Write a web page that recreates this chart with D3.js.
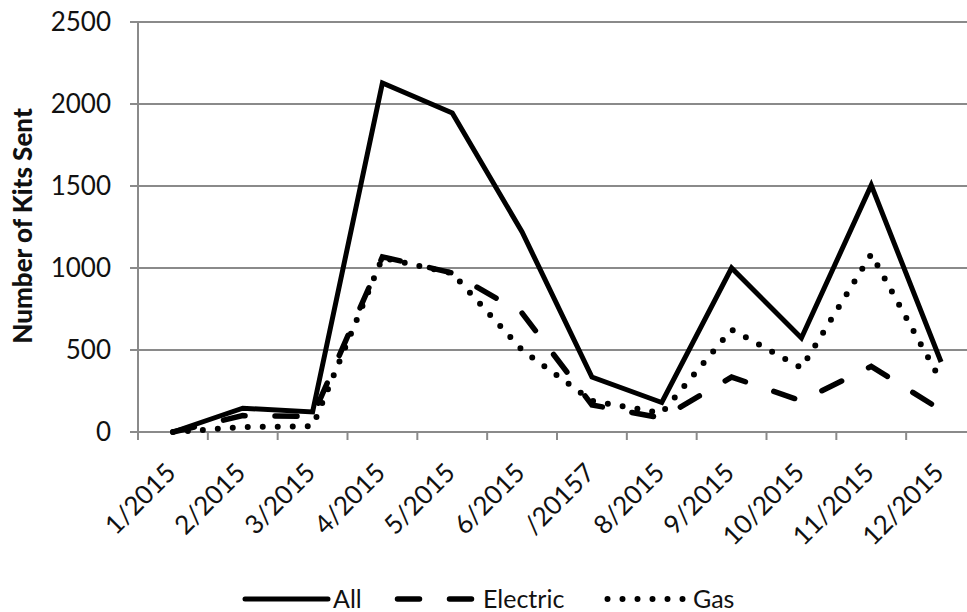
<!DOCTYPE html>
<html>
<head>
<meta charset="utf-8">
<script src="https://cdn.jsdelivr.net/npm/d3@7"></script>
<style>
  body { margin: 0; background: #fff; }
  svg { display: block; font-family: Lato, "Open Sans", sans-serif; }
</style>
</head>
<body>
<div id="chart"></div>
<script>
// Data
const months = ["1/2015", "2/2015", "3/2015", "4/2015", "5/2015", "6/2015",
    "/20157", "8/2015", "9/2015", "10/2015", "11/2015", "12/2015"];
const allKits = [0, 145, 122, 2128, 1945, 1220, 335, 180, 1000, 573, 1505, 427];
const electricKits = [0, 100, 95, 1068, 970, 725, 165, 85, 335, 190, 400, 134];
const gasKits = [0, 30, 35, 1062, 968, 500, 190, 115, 625, 390, 1085, 310];
const yTicks = [0, 500, 1000, 1500, 2000, 2500];
const seriesNames = ["All", "Electric", "Gas"];

const seriesValues = { "All": allKits, "Electric": electricKits, "Gas": gasKits };

// line styles
const dashFor = { "All": null, "Electric": "22,30", "Gas": "0,15" };
const widthFor = { "All": 5, "Electric": 5.5, "Gas": 6 };

const W = 967, H = 612;
const svg = d3.select("#chart").append("svg")
    .attr("width", W)
    .attr("height", H);

// Scales
const x = d3.scaleBand()
    .domain(months)
    .range([138, 976])
    .padding(0);
const y = d3.scaleLinear()
    .domain([0, 2500])
    .range([432, 22]);

const gridColor = "#8a8a8a";

// Gridlines
svg.append("g")
    .selectAll("line")
    .data(yTicks)
    .join("line")
        .attr("x1", 130)
        .attr("x2", 976)
        .attr("y1", d => y(d))
        .attr("y2", d => y(d))
        .attr("stroke", gridColor)
        .attr("stroke-width", 2);

// Y axis line
svg.append("line")
    .attr("x1", x.range()[0]).attr("x2", x.range()[0])
    .attr("y1", y(2500)).attr("y2", y(0) + 8)
    .attr("stroke", gridColor)
    .attr("stroke-width", 2);

// Y tick labels
svg.append("g")
    .selectAll("text")
    .data(yTicks)
    .join("text")
        .attr("x", 111)
        .attr("y", d => y(d))
        .attr("dy", "0.35em")
        .attr("text-anchor", "end")
        .attr("font-size", 26)
        .attr("fill", "#111")
        .text(d => d);

// X tick marks at the band edges
svg.append("g")
    .selectAll("line")
    .data(months)
    .join("line")
        .attr("x1", d => x(d))
        .attr("x2", d => x(d))
        .attr("y1", y(0))
        .attr("y2", y(0) + 8)
        .attr("stroke", gridColor)
        .attr("stroke-width", 2);

// X tick labels, rotated
svg.append("g")
    .selectAll("text")
    .data(months)
    .join("text")
        .attr("transform", d => "translate(" + (x(d) + x.bandwidth() / 2 - 2) + "," + (y(0) + 36) + ") rotate(-45)")
        .attr("dy", "0.35em")
        .attr("text-anchor", "end")
        .attr("font-size", 26)
        .attr("fill", "#111")
        .text(d => d);

// Y axis title
svg.append("text")
    .attr("transform", "translate(32,226) rotate(-90)")
    .attr("text-anchor", "middle")
    .attr("font-size", 26)
    .attr("font-weight", 900)
    .attr("fill", "#111")
    .text("Number of Kits Sent");

// Lines
const line = d3.line()
    .x((d, i) => x(months[i]) + x.bandwidth() / 2)
    .y(d => y(d));

seriesNames.forEach(function(name) {
    svg.append("path")
        .datum(seriesValues[name])
        .attr("fill", "none")
        .attr("stroke", "#000")
        .attr("stroke-width", widthFor[name])
        .attr("stroke-linecap", name === "All" ? "butt" : "round")
        .attr("stroke-linejoin", "miter")
        .attr("stroke-dasharray", dashFor[name])
        .attr("d", line);
});

// Legend
const legendY = 599;
const legendStarts = { "All": 245, "Electric": 395, "Gas": 605 };
seriesNames.forEach(function(name) {
    const x0 = legendStarts[name];
    svg.append("line")
        .attr("x1", x0 + (name === "All" ? 0 : 2.5))
        .attr("x2", x0 + 83)
        .attr("y1", legendY)
        .attr("y2", legendY)
        .attr("stroke", "#000")
        .attr("stroke-width", widthFor[name])
        .attr("stroke-linecap", "round")
        .attr("stroke-dasharray", dashFor[name]);
    svg.append("text")
        .attr("x", x0 + 88)
        .attr("y", 608)
        .attr("font-size", 25)
        .attr("fill", "#111")
        .text(name);
});
</script>
</body>
</html>
